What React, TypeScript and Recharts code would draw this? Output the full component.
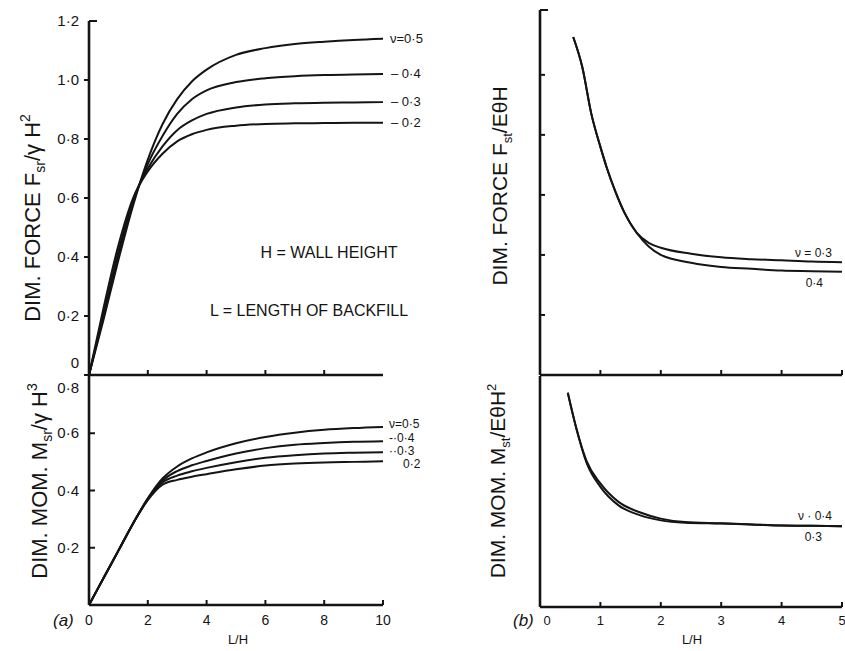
import React from 'react';
import { LineChart, Line, XAxis, YAxis } from 'recharts';

// ---------- data ----------
const A_X = [0, 0.5, 1, 1.5, 2, 2.5, 3, 3.5, 4, 5, 6, 7, 8, 9, 10];

const A_FORCE_NU05 = [0, 0.19, 0.39, 0.575, 0.73, 0.85, 0.935, 0.995, 1.035, 1.085, 1.108, 1.122, 1.13, 1.136, 1.14];
const A_FORCE_NU04 = [0, 0.2, 0.405, 0.585, 0.715, 0.81, 0.885, 0.935, 0.965, 0.993, 1.006, 1.013, 1.017, 1.019, 1.02];
const A_FORCE_NU03 = [0, 0.21, 0.42, 0.595, 0.7, 0.775, 0.83, 0.863, 0.885, 0.907, 0.917, 0.921, 0.923, 0.924, 0.925];
const A_FORCE_NU02 = [0, 0.23, 0.44, 0.6, 0.69, 0.75, 0.792, 0.816, 0.831, 0.845, 0.851, 0.853, 0.854, 0.855, 0.855];

const A_MOM_NU05 = [0, 0.095, 0.19, 0.285, 0.373, 0.442, 0.484, 0.512, 0.533, 0.565, 0.587, 0.602, 0.612, 0.618, 0.622];
const A_MOM_NU04 = [0, 0.095, 0.19, 0.285, 0.371, 0.435, 0.468, 0.488, 0.503, 0.529, 0.548, 0.56, 0.566, 0.57, 0.572];
const A_MOM_NU03 = [0, 0.095, 0.19, 0.285, 0.369, 0.428, 0.452, 0.467, 0.479, 0.499, 0.514, 0.523, 0.529, 0.532, 0.534];
const A_MOM_NU02 = [0, 0.095, 0.19, 0.285, 0.366, 0.42, 0.437, 0.448, 0.457, 0.474, 0.487, 0.494, 0.498, 0.5, 0.502];

const B_FORCE_X = [0.55, 0.7, 0.85, 1.0, 1.1, 1.25, 1.4, 1.6, 1.8, 2.0, 2.5, 3, 3.5, 4, 4.5, 5];
const B_FORCE_NU03 = [5.63, 5.13, 4.35, 3.8, 3.47, 3.05, 2.7, 2.37, 2.2, 2.12, 2.02, 1.96, 1.93, 1.91, 1.89, 1.88];
const B_FORCE_NU04 = [5.63, 5.13, 4.35, 3.8, 3.47, 3.05, 2.7, 2.37, 2.14, 2.0, 1.87, 1.8, 1.77, 1.74, 1.73, 1.72];

const B_MOM_X = [0.46, 0.6, 0.77, 1.0, 1.3, 1.65, 2.0, 2.4, 3, 3.5, 4, 4.5, 5];
const B_MOM_NU04 = [3.71, 3.1, 2.53, 2.14, 1.82, 1.64, 1.53, 1.47, 1.45, 1.43, 1.41, 1.405, 1.4];
const B_MOM_NU03 = [3.71, 3.1, 2.5, 2.08, 1.76, 1.59, 1.5, 1.46, 1.445, 1.43, 1.41, 1.405, 1.4];

const A_X_TICKS = [0, 2, 4, 6, 8, 10];
const A_FORCE_Y_TICKS = [0, 0.2, 0.4, 0.6, 0.8, 1.0, 1.2];
const A_MOM_Y_TICKS = [0.2, 0.4, 0.6, 0.8];
const B_X_TICKS = [0, 1, 2, 3, 4, 5];
const B_FORCE_Y_TICKS = [1, 2, 3, 4, 5, 6.08];

const A_FORCE_LABELS = ['ν=0·5', '– 0·4', '– 0·3', '– 0·2'];
const A_MOM_LABELS = ['ν=0·5', '-·0·4', '··0·3', '0·2'];
const B_FORCE_LABELS = ['ν = 0·3', '0·4'];
const B_MOM_LABELS = ['ν · 0·4', '0·3'];

// ---------- style ----------
const FONT = '"Liberation Sans", Arial, Helvetica, sans-serif';
const INK = '#141414';
const AXIS = { stroke: INK, strokeWidth: 2.6 };

const mk = (xs: number[], ys: number[]) => xs.map((x, i) => ({ x, y: ys[i] }));
const fmt = (v: number) => (v === 0 ? '0' : v.toFixed(1).replace('.', '·'));

const endLabel = (text: string, n: number, dx: number, dy: number, anchor: string, size = 13) =>
  (p: any) => {
    if (p.index !== n - 1) return <g />;
    return (
      <text x={p.x + dx} y={p.y + dy} textAnchor={anchor} fontSize={size} fontFamily={FONT} fill={INK}>
        {text}
      </text>
    );
  };

// ---------- ticks ----------
const a1XTick = (p: any) => {
  const v = p.payload.value;
  if (v === 0 || v === 10) return <g />;
  return <line x1={p.x} y1={p.y} x2={p.x} y2={p.y - 5} stroke={INK} strokeWidth={2} />;
};
const a1YTick = (p: any) => {
  const v = p.payload.value;
  const top = v === 1.2;
  return (
    <g>
      <line x1={p.x} y1={p.y} x2={top ? p.x + 8 : p.x - 5} y2={p.y} stroke={INK} strokeWidth={2} />
      <text x={p.x - 10} y={v === 0 ? p.y - 7 : p.y + 5} textAnchor="end" fontSize={15} fontFamily={FONT} fill={INK}>
        {fmt(v)}
      </text>
    </g>
  );
};
const a2XTick = (p: any) => {
  const v = p.payload.value;
  return (
    <g>
      {v > 0 && <line x1={p.x} y1={p.y} x2={p.x} y2={p.y - 5} stroke={INK} strokeWidth={2} />}
      <text x={p.x} y={p.y + 20} textAnchor="middle" fontSize={14} fontFamily={FONT} fill={INK}>
        {String(v)}
      </text>
    </g>
  );
};
const a2YTick = (p: any) => {
  const v = p.payload.value;
  const top = v === 0.8;
  return (
    <g>
      {!top && <line x1={p.x} y1={p.y} x2={p.x + 6} y2={p.y} stroke={INK} strokeWidth={2} />}
      <text x={p.x - 10} y={top ? p.y + 17 : p.y + 5} textAnchor="end" fontSize={15} fontFamily={FONT} fill={INK}>
        {fmt(v)}
      </text>
    </g>
  );
};
const b1XTick = (p: any) => {
  const v = p.payload.value;
  if (v === 0) return <g />;
  return <line x1={p.x} y1={p.y} x2={p.x} y2={p.y - 5} stroke={INK} strokeWidth={2} />;
};
const b1YTick = (p: any) => {
  const v = p.payload.value;
  return <line x1={p.x} y1={p.y} x2={p.x + (v > 6 ? 8 : 5)} y2={p.y} stroke={INK} strokeWidth={2} />;
};
const b2XTick = (p: any) => {
  const v = p.payload.value;
  return (
    <g>
      {v > 0 && <line x1={p.x} y1={p.y} x2={p.x} y2={p.y - 5} stroke={INK} strokeWidth={2} />}
      <text x={p.x + (v === 0 ? 7 : 0)} y={p.y + 18} textAnchor="middle" fontSize={13} fontFamily={FONT} fill={INK}>
        {String(v)}
      </text>
    </g>
  );
};
const noTick = () => <g />;

// ---------- titles / annotations ----------
const a1Titles = () => (
  <g fontFamily={FONT} fill={INK}>
    <text transform="translate(40,218) rotate(-90)" textAnchor="middle" fontSize={22}>
      DIM. FORCE F<tspan fontSize={14} dy={5}>sr</tspan>
      <tspan dy={-5}>/γ H</tspan>
      <tspan fontSize={14} dy={-10}>2</tspan>
    </text>
    <text x={329} y={258} textAnchor="middle" fontSize={16}>H = WALL HEIGHT</text>
    <text x={210} y={316} textAnchor="start" fontSize={16}>L = LENGTH OF BACKFILL</text>
  </g>
);
const a2Titles = () => (
  <g fontFamily={FONT} fill={INK}>
    <text transform="translate(47,121) rotate(-90)" textAnchor="middle" fontSize={22}>
      DIM. MOM. M<tspan fontSize={14} dy={5}>sr</tspan>
      <tspan dy={-5}>/γ H</tspan>
      <tspan fontSize={14} dy={-10}>3</tspan>
    </text>
  </g>
);
const a2XLabels = () => (
  <g fontFamily={FONT} fill={INK}>
    <text x={53} y={266} fontSize={17} fontStyle="italic">(a)</text>
    <text x={238} y={284} textAnchor="middle" fontSize={13}>L/H</text>
  </g>
);
const b1Titles = () => (
  <g fontFamily={FONT} fill={INK}>
    <text transform="translate(67,186) rotate(-90)" textAnchor="middle" fontSize={21}>
      DIM. FORCE F<tspan fontSize={13} dy={5}>st</tspan>
      <tspan dy={-5}>/EθH</tspan>
    </text>
  </g>
);
const b2Titles = () => (
  <g fontFamily={FONT} fill={INK}>
    <text transform="translate(65,121) rotate(-90)" textAnchor="middle" fontSize={21}>
      DIM. MOM. M<tspan fontSize={13} dy={5}>st</tspan>
      <tspan dy={-5}>/EθH</tspan>
      <tspan fontSize={13} dy={-9}>2</tspan>
    </text>
  </g>
);
const b2XLabels = () => (
  <g fontFamily={FONT} fill={INK}>
    <text x={73} y={266} fontSize={17} fontStyle="italic">(b)</text>
    <text x={252} y={284} textAnchor="middle" fontSize={13}>L/H</text>
  </g>
);

export default function App() {
  const aForce = [A_FORCE_NU05, A_FORCE_NU04, A_FORCE_NU03, A_FORCE_NU02];
  const aMom = [A_MOM_NU05, A_MOM_NU04, A_MOM_NU03, A_MOM_NU02];
  const aForceDx = [7, 8, 8, 8];
  const aMomDx = [6, 6, 6, 20];
  const aMomDy = [1, 1, 3, 7];
  const n = A_X.length;

  return (
    <div style={{ position: 'absolute', left: 0, top: 0, width: 845, height: 651, background: '#fff', overflow: 'hidden' }}>
      {/* (a) force */}
      <div style={{ position: 'absolute', left: 0, top: 0 }}>
        <LineChart width={440} height={390} margin={{ top: 21, right: 57, bottom: 14, left: 88 }}>
          <XAxis type="number" dataKey="x" domain={[0, 10]} ticks={A_X_TICKS} interval={0} height={1}
            axisLine={AXIS} tickLine={false} tickSize={0} tickMargin={0} tick={a1XTick} />
          <YAxis type="number" domain={[0, 1.2]} ticks={A_FORCE_Y_TICKS} interval={0} width={1}
            axisLine={AXIS} tickLine={false} tickSize={0} tickMargin={0} tick={a1YTick}
            label={{ content: a1Titles }} />
          {aForce.map((vals, i) => (
            <Line key={i} data={mk(A_X, vals)} dataKey="y" type="monotone" stroke={INK} strokeWidth={2}
              dot={false} activeDot={false} isAnimationActive={false}
              label={endLabel(A_FORCE_LABELS[i], n, aForceDx[i], 4, 'start', 13)} />
          ))}
        </LineChart>
      </div>

      {/* (a) moment */}
      <div style={{ position: 'absolute', left: 0, top: 360 }}>
        <LineChart width={440} height={291} margin={{ top: 16, right: 57, bottom: 45, left: 88 }}>
          <XAxis type="number" dataKey="x" domain={[0, 10]} ticks={A_X_TICKS} interval={0} height={1}
            axisLine={AXIS} tickLine={false} tickSize={0} tickMargin={0} tick={a2XTick}
            label={{ content: a2XLabels }} />
          <YAxis type="number" domain={[0, 0.8]} ticks={A_MOM_Y_TICKS} interval={0} width={1}
            axisLine={AXIS} tickLine={false} tickSize={0} tickMargin={0} tick={a2YTick}
            label={{ content: a2Titles }} />
          {aMom.map((vals, i) => (
            <Line key={i} data={mk(A_X, vals)} dataKey="y" type="monotone" stroke={INK} strokeWidth={2}
              dot={false} activeDot={false} isAnimationActive={false}
              label={endLabel(A_MOM_LABELS[i], n, aMomDx[i], aMomDy[i], 'start', 12)} />
          ))}
        </LineChart>
      </div>

      {/* (b) force */}
      <div style={{ position: 'absolute', left: 440, top: 0 }}>
        <LineChart width={405} height={390} margin={{ top: 10, right: 3, bottom: 14, left: 99 }}>
          <XAxis type="number" dataKey="x" domain={[0, 5]} ticks={B_X_TICKS} interval={0} height={1}
            axisLine={AXIS} tickLine={false} tickSize={0} tickMargin={0} tick={b1XTick} />
          <YAxis type="number" domain={[0, 6.08]} ticks={B_FORCE_Y_TICKS} interval={0} width={1}
            axisLine={AXIS} tickLine={false} tickSize={0} tickMargin={0} tick={b1YTick}
            label={{ content: b1Titles }} />
          <Line data={mk(B_FORCE_X, B_FORCE_NU03)} dataKey="y" type="monotone" stroke={INK} strokeWidth={2}
            dot={false} activeDot={false} isAnimationActive={false}
            label={endLabel(B_FORCE_LABELS[0], B_FORCE_X.length, -10, -5, 'end', 12)} />
          <Line data={mk(B_FORCE_X, B_FORCE_NU04)} dataKey="y" type="monotone" stroke={INK} strokeWidth={2}
            dot={false} activeDot={false} isAnimationActive={false}
            label={endLabel(B_FORCE_LABELS[1], B_FORCE_X.length, -19, 15, 'end', 12)} />
        </LineChart>
      </div>

      {/* (b) moment */}
      <div style={{ position: 'absolute', left: 440, top: 360 }}>
        <LineChart width={405} height={291} margin={{ top: 16, right: 3, bottom: 43, left: 99 }}>
          <XAxis type="number" dataKey="x" domain={[0, 5]} ticks={B_X_TICKS} interval={0} height={1}
            axisLine={AXIS} tickLine={false} tickSize={0} tickMargin={0} tick={b2XTick}
            label={{ content: b2XLabels }} />
          <YAxis type="number" domain={[0, 4]} ticks={[4]} interval={0} width={1}
            axisLine={AXIS} tickLine={false} tickSize={0} tickMargin={0} tick={noTick}
            label={{ content: b2Titles }} />
          <Line data={mk(B_MOM_X, B_MOM_NU04)} dataKey="y" type="monotone" stroke={INK} strokeWidth={2}
            dot={false} activeDot={false} isAnimationActive={false}
            label={endLabel(B_MOM_LABELS[0], B_MOM_X.length, -10, -6, 'end', 12)} />
          <Line data={mk(B_MOM_X, B_MOM_NU03)} dataKey="y" type="monotone" stroke={INK} strokeWidth={2}
            dot={false} activeDot={false} isAnimationActive={false}
            label={endLabel(B_MOM_LABELS[1], B_MOM_X.length, -20, 15, 'end', 12)} />
        </LineChart>
      </div>
    </div>
  );
}
